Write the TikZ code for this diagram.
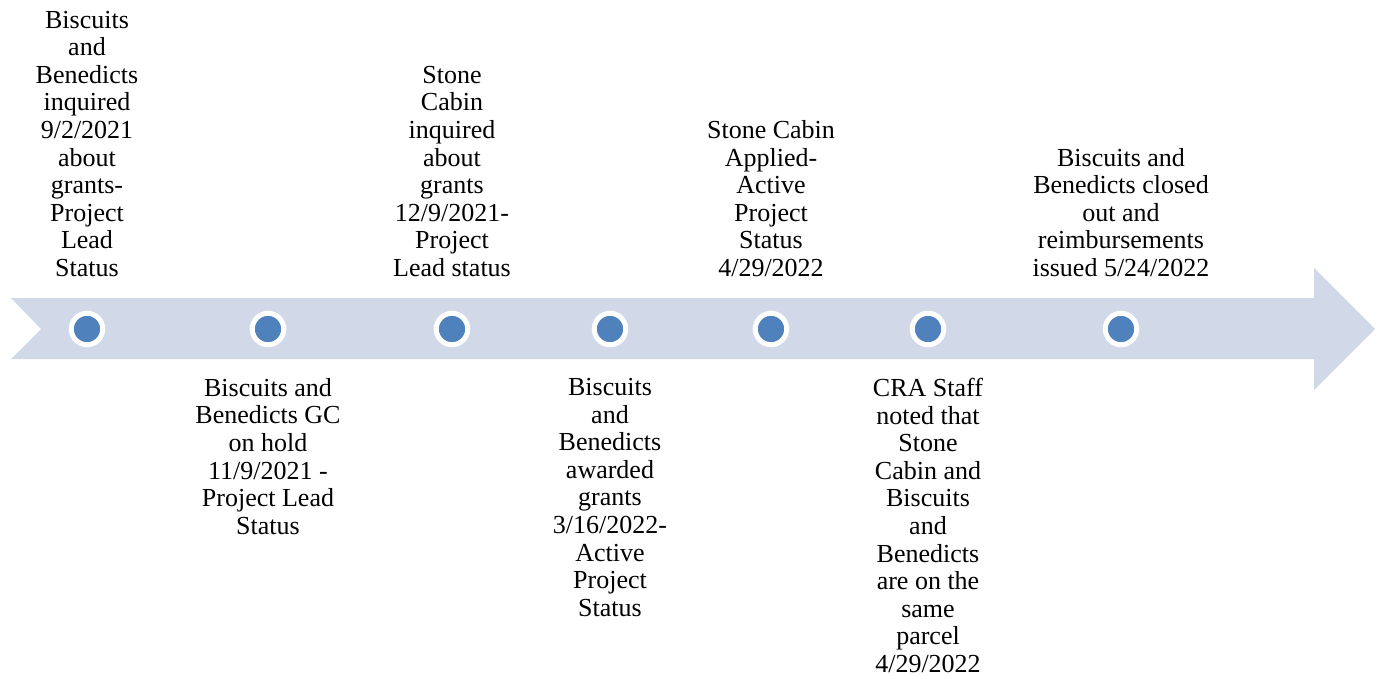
\documentclass[tikz,border=0pt]{standalone}
\usepackage{fontspec}
\setmainfont{Liberation Serif}
\definecolor{bandc}{HTML}{D1D9E8}
\definecolor{dotc}{HTML}{4F81BD}
\begin{document}
\begin{tikzpicture}[x=1pt,y=-1pt,
  dotstyle/.style={circle,fill=dotc,draw=white,line width=5pt,minimum size=31.5pt,inner sep=0pt},
  toplabel/.style={anchor=south,align=center,inner sep=0pt,font=\fontsize{26}{27.6}\selectfont},
  botlabel/.style={anchor=north,align=center,inner sep=0pt,font=\fontsize{26}{27.6}\selectfont}]
\useasboundingbox (0,0) rectangle (1384,679);
\fill[bandc] (11,298) -- (1314,298) -- (1314,268) -- (1375,329) -- (1314,390) -- (1314,359) -- (11,359) -- (41,329) -- cycle;
\foreach \n/\x in {1/87,2/268,3/452,4/610,5/771,6/928,7/1121}
  \node[dotstyle] (d\n) at (\x,329) {};
\node[toplabel] (l1) at (87,277) {Biscuits\\and\\Benedicts\\inquired\\9/2/2021\\about\\grants-\\Project\\Lead\\Status};
\node[botlabel] (l2) at (268,378) {Biscuits and\\Benedicts GC\\on hold\\11/9/2021 -\\Project Lead\\Status};
\node[toplabel] (l3) at (452,277) {Stone\\Cabin\\inquired\\about\\grants\\12/9/2021-\\Project\\Lead status};
\node[botlabel] (l4) at (610,378) {Biscuits\\and\\Benedicts\\awarded\\grants\\3/16/2022-\\Active\\Project\\Status};
\node[toplabel] (l5) at (771,277) {Stone Cabin\\Applied-\\Active\\Project\\Status\\4/29/2022};
\node[botlabel] (l6) at (928,378) {CRA Staff\\noted that\\Stone\\Cabin and\\Biscuits\\and\\Benedicts\\are on the\\same\\parcel\\4/29/2022};
\node[toplabel] (l7) at (1121,277) {Biscuits and\\Benedicts closed\\out and\\reimbursements\\issued 5/24/2022};
\end{tikzpicture}
\end{document}
